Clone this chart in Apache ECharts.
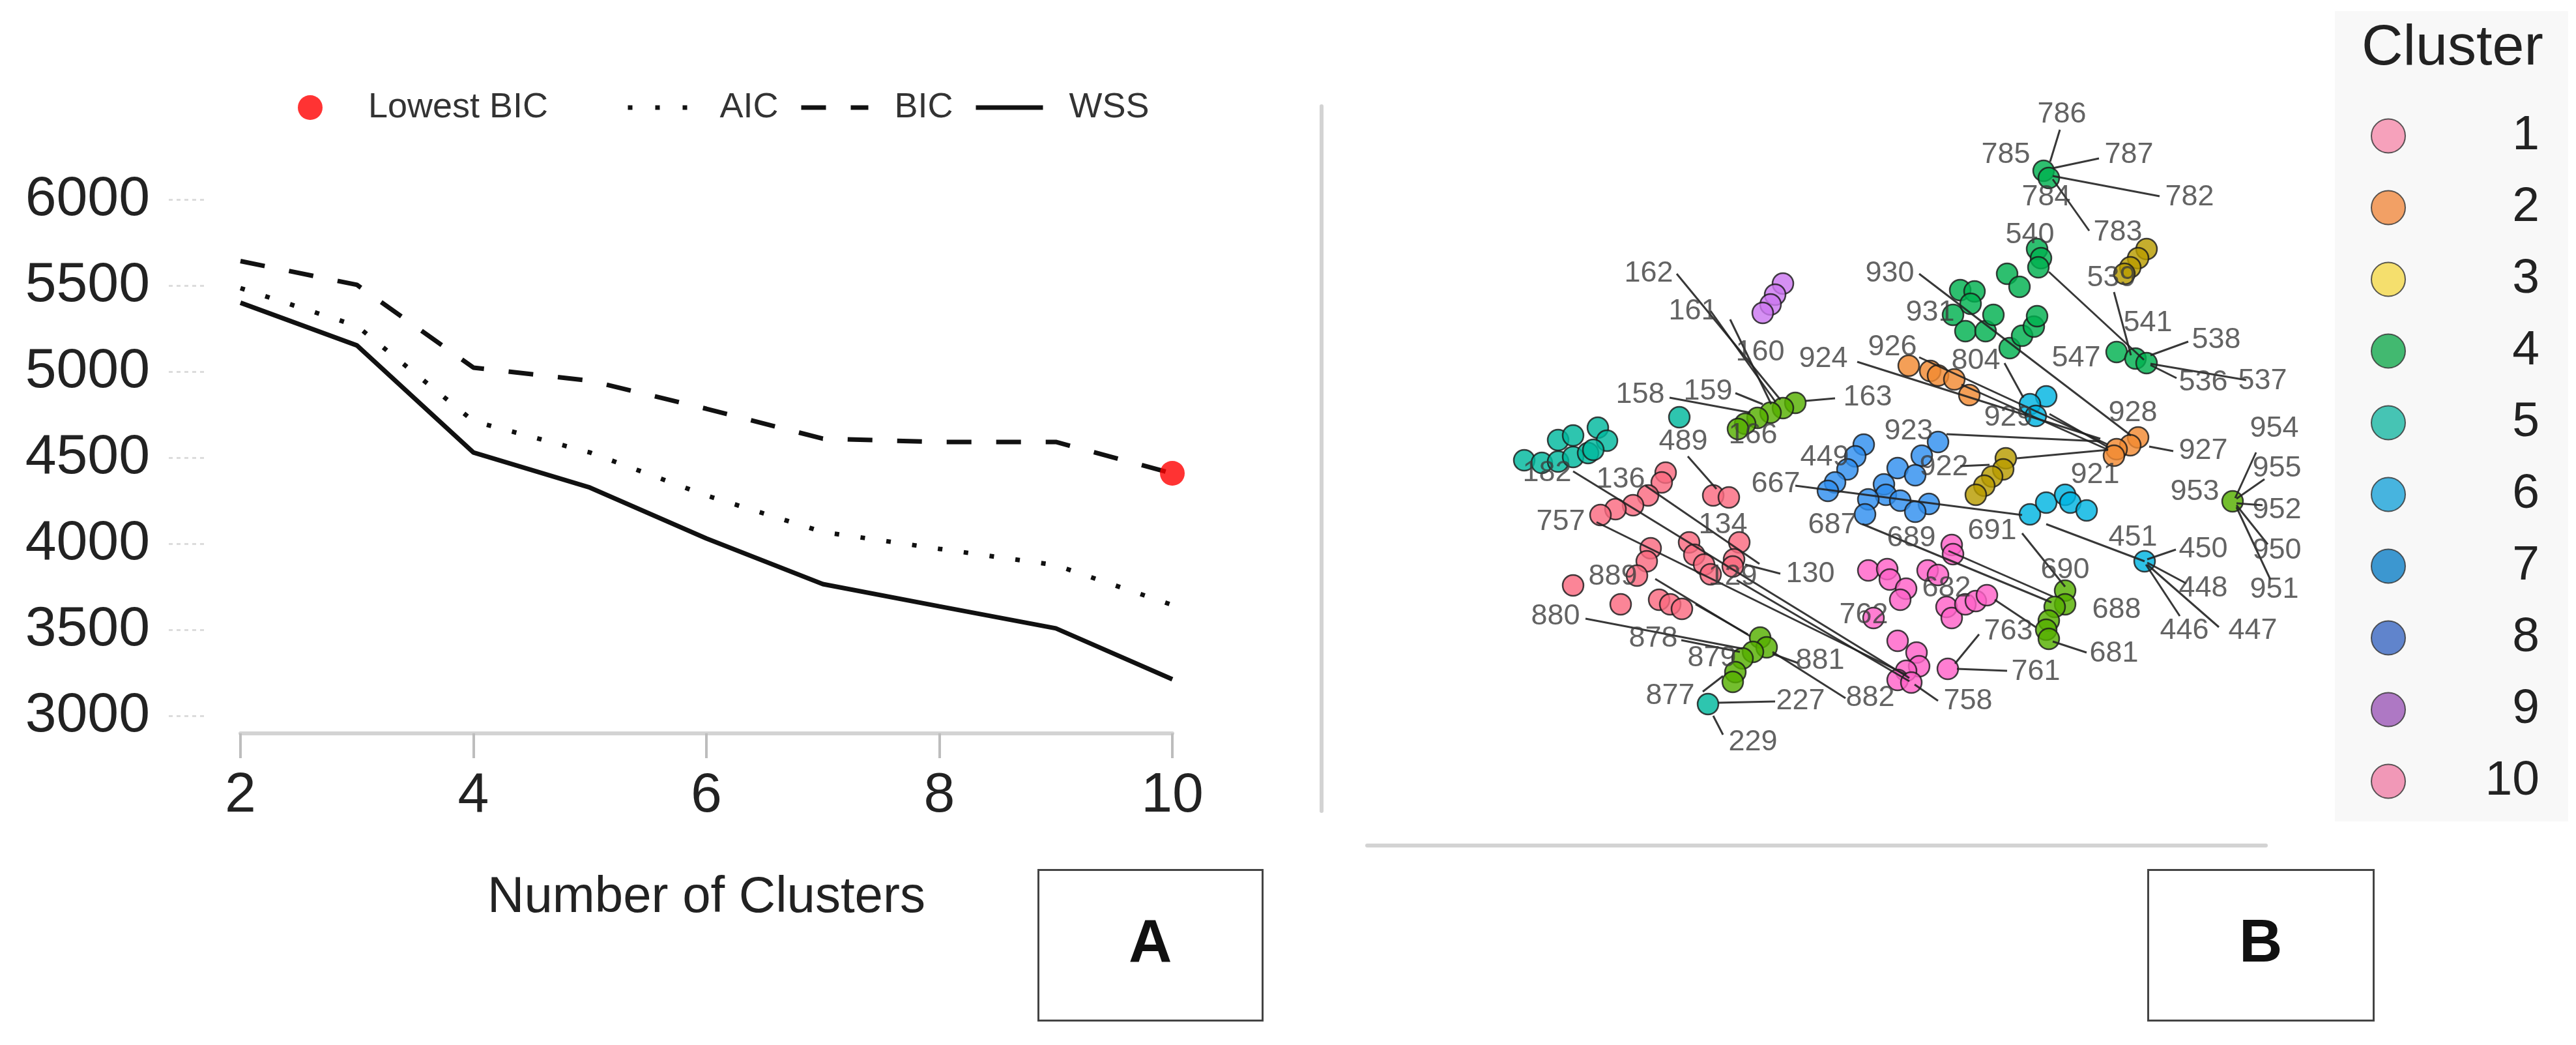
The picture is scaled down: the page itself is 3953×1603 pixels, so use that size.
<!DOCTYPE html>
<html>
<head>
<meta charset="utf-8">
<script src="https://cdn.jsdelivr.net/npm/echarts@6/dist/echarts.min.js"></script>
<style>
  html, body { margin: 0; padding: 0; background: #fff; }
  #chart { width: 3953px; height: 1603px; }
</style>
</head>
<body>
<div id="chart"></div>
<script>
/* --------------------------------------------------------
 Panel A: model selection curves
 -----------------------------------------------------------*/
var clusterCounts = [2, 3, 4, 5, 6, 7, 8, 9, 10];
var aicVals = [5485, 5265, 4712, 4530, 4280, 4068, 3970, 3875, 3644];
var bicVals = [5642, 5504, 5023, 4947, 4784, 4610, 4591, 4591, 4409];
var wssVals = [5400, 5152, 4530, 4326, 4030, 3765, 3636, 3508, 3212];

/* --------------------------------------------------------
 Panel B: cluster map (dim1, dim2), grouped by plotted colour
 -----------------------------------------------------------*/
var salmonPts = [[55.6, 57.5], [55.0, 56.0], [52.9, 54.0], [50.6, 52.5], [47.9, 51.9], [45.6, 51.0],
  [62.9, 54.0], [65.3, 53.7], [53.3, 45.9], [52.7, 43.9], [51.2, 41.7], [59.2, 46.8], [60.0, 44.9],
  [61.5, 43.4], [62.5, 41.9], [66.9, 46.8], [66.1, 44.2], [65.9, 43.1], [41.4, 40.2], [48.7, 37.3],
  [54.6, 38.0], [56.3, 37.3], [58.1, 36.6]];
var tealPts = [[33.9, 59.4], [36.6, 59.0], [39.1, 59.2], [41.4, 59.9], [43.7, 60.5], [39.1, 62.5],
  [41.4, 63.2], [45.2, 64.4], [46.6, 62.4], [44.5, 61.0], [57.7, 66.0], [62.1, 22.0]];
var purplePts = [[73.6, 86.5], [72.4, 84.8], [71.7, 83.3], [70.5, 82.0]];
var limePts = [[75.5, 68.2], [73.6, 67.4], [71.7, 66.7], [69.7, 65.9], [67.8, 65.0], [66.7, 64.2],
  [70.1, 32.2], [71.1, 30.7], [69.0, 30.0], [67.4, 29.0], [66.3, 26.9], [65.9, 25.4],
  [116.9, 39.4], [116.9, 37.3], [115.3, 36.9], [114.4, 34.8], [114.0, 33.4], [114.4, 32.0], [142.6, 53.1]];
var greenPts = [[113.6, 103.8], [114.4, 102.7], [112.6, 91.8], [113.2, 90.4], [112.8, 89.0], [108.0, 88.0],
  [109.9, 86.0], [100.8, 85.5], [103.0, 85.3], [99.7, 81.7], [101.6, 79.2], [104.7, 79.2], [105.9, 81.7],
  [108.4, 76.6], [110.3, 78.5], [112.1, 79.9], [112.6, 81.5], [102.4, 83.4], [124.8, 76.0], [127.7, 75.0],
  [129.4, 74.3]];
var olivePts = [[129.4, 91.8], [128.1, 90.4], [126.9, 89.0], [126.0, 88.0], [107.8, 59.7], [107.4, 58.0],
  [105.7, 56.9], [104.5, 55.5], [103.2, 54.1]];
var orangePts = [[92.9, 73.9], [96.2, 73.1], [97.4, 72.4], [99.9, 71.8], [102.2, 69.4], [128.1, 62.9],
  [126.9, 61.7], [124.8, 61.1], [124.4, 60.1]];
var cyanPts = [[114.0, 69.2], [111.5, 68.0], [112.4, 66.2], [111.5, 51.1], [114.0, 52.9], [116.9, 54.1],
  [117.7, 52.9], [120.2, 51.7], [129.1, 43.9]];
var bluePts = [[97.4, 62.2], [94.9, 60.1], [91.2, 58.2], [93.9, 57.1], [89.1, 55.7], [89.4, 54.1],
  [86.7, 53.4], [91.6, 53.2], [96.0, 52.7], [93.9, 51.5], [86.2, 51.1], [86.0, 61.8], [84.7, 60.0],
  [83.5, 58.0], [81.6, 56.0], [80.5, 54.7]];
var magentaPts = [[99.5, 46.4], [99.7, 45.0], [86.7, 42.5], [89.6, 42.7], [90.0, 41.1], [92.5, 39.7],
  [91.6, 38.0], [95.8, 42.5], [97.4, 41.8], [98.7, 36.9], [99.5, 35.2], [101.6, 37.3], [103.2, 37.8],
  [104.9, 38.7], [87.5, 35.2], [91.2, 31.7], [94.1, 29.9], [94.5, 27.8], [92.5, 27.1], [91.2, 25.7],
  [93.3, 25.3], [98.9, 27.4]];

// point labels: [text, dim1, dim2]
var ptLabels = [
  ['786', 116.4, 112.4], ['785', 107.8, 106.2], ['787', 126.7, 106.2], ['784', 114.0, 99.7],
  ['782', 136.0, 99.7], ['783', 125.0, 94.3], ['540', 111.5, 93.9], ['539', 124.0, 87.3],
  ['930', 90.0, 88.0], ['931', 96.2, 82.0], ['541', 129.6, 80.4], ['538', 140.1, 77.8],
  ['547', 118.6, 75.0], ['536', 138.1, 71.3], ['537', 147.2, 71.5], ['926', 90.4, 76.7],
  ['924', 79.8, 74.9], ['804', 103.2, 74.6], ['929', 108.2, 65.9], ['928', 127.3, 66.6],
  ['923', 92.9, 63.8], ['927', 138.1, 60.8], ['922', 98.3, 58.3], ['921', 121.5, 57.1],
  ['954', 149.0, 64.2], ['955', 149.4, 58.1], ['953', 136.8, 54.5], ['952', 149.4, 51.7],
  ['950', 149.4, 45.5], ['951', 149.0, 39.5], ['691', 105.7, 48.5], ['451', 127.3, 47.5],
  ['450', 138.1, 45.7], ['448', 138.1, 39.7], ['446', 135.2, 33.2], ['447', 145.7, 33.2],
  ['690', 116.9, 42.5], ['688', 124.8, 36.4], ['681', 124.4, 29.7], ['763', 108.2, 33.1],
  ['761', 112.4, 26.9], ['758', 102.0, 22.4], ['762', 86.0, 35.6], ['682', 98.7, 39.7],
  ['689', 93.3, 47.4], ['687', 81.2, 49.4], ['667', 72.5, 55.7], ['449', 80.0, 59.8],
  ['162', 53.0, 88.0], ['161', 59.8, 82.2], ['160', 70.1, 75.9], ['158', 51.7, 69.4],
  ['159', 62.1, 69.9], ['163', 86.6, 69.0], ['166', 69.0, 63.2], ['182', 37.4, 57.4],
  ['489', 58.3, 62.2], ['136', 48.7, 56.4], ['757', 39.5, 49.9], ['134', 64.4, 49.4],
  ['130', 77.8, 41.9], ['129', 65.9, 41.5], ['889', 47.5, 41.5], ['880', 38.7, 35.4],
  ['878', 53.7, 32.0], ['879', 62.7, 29.0], ['881', 79.3, 28.6], ['877', 56.3, 23.2],
  ['227', 76.3, 22.4], ['882', 87.0, 22.9], ['229', 69.0, 16.1]
];

// leader segments: [[from dim1, dim2], [to dim1, dim2]]
var leaders = [
  [[116.1, 110.1], [114.6, 105.2]], [[122.1, 105.7], [115.0, 104.2]], [[131.4, 99.9], [115.0, 103.0]],
  [[120.6, 94.6], [115.0, 102.5]], [[114.4, 88.3], [129.0, 74.8]], [[124.4, 85.2], [127.0, 75.5]],
  [[94.5, 88.0], [127.0, 63.2]], [[135.8, 77.6], [130.0, 75.5]], [[144.7, 71.7], [130.0, 74.2]],
  [[134.0, 72.0], [130.0, 74.0]], [[94.5, 75.2], [123.5, 61.8]], [[85.0, 74.5], [122.3, 62.7]],
  [[107.6, 74.3], [110.5, 69.0]], [[101.0, 71.0], [123.5, 61.0]], [[114.5, 66.5], [123.5, 61.4]],
  [[98.7, 63.4], [122.3, 62.3]], [[129.8, 61.5], [133.5, 60.8]], [[100.8, 58.5], [105.3, 58.7]],
  [[109.5, 59.7], [123.5, 61.0]], [[146.2, 60.6], [143.0, 53.6]], [[147.5, 56.5], [143.2, 53.5]],
  [[147.2, 52.5], [143.2, 52.8]], [[148.0, 46.5], [143.2, 52.5]], [[148.4, 41.1], [143.2, 52.2]],
  [[110.3, 48.2], [116.9, 40.0]], [[114.0, 49.6], [129.1, 43.9]], [[133.9, 45.7], [129.5, 44.2]],
  [[135.5, 40.5], [129.5, 43.7]], [[134.5, 35.5], [129.3, 43.4]], [[140.5, 33.8], [129.5, 43.4]],
  [[120.2, 29.9], [115.0, 31.6]], [[103.7, 32.7], [100.0, 28.2]], [[108.0, 27.1], [100.3, 27.4]],
  [[97.4, 22.5], [93.8, 25.0]], [[85.8, 49.6], [114.8, 37.6]], [[99.0, 45.5], [115.0, 38.5]],
  [[106.1, 38.0], [112.4, 33.8]], [[75.5, 55.5], [110.3, 51.0]],
  [[57.3, 88.0], [73.2, 68.7]], [[62.5, 82.3], [72.5, 68.3]], [[65.5, 81.0], [71.8, 68.0]],
  [[56.2, 69.0], [68.6, 66.7]], [[66.3, 69.7], [70.5, 68.0]], [[81.6, 68.9], [77.0, 68.5]],
  [[41.4, 57.7], [93.0, 26.0]], [[45.0, 49.9], [92.5, 26.5]], [[52.5, 55.5], [70.0, 43.5]],
  [[67.8, 43.4], [73.2, 42.0]], [[59.0, 60.0], [63.4, 55.0]], [[66.5, 41.0], [93.0, 25.5]],
  [[54.0, 41.2], [68.6, 32.4]], [[60.2, 37.3], [68.2, 32.7]], [[43.3, 35.1], [67.4, 30.5]],
  [[58.0, 31.8], [67.0, 30.0]], [[61.3, 23.9], [64.4, 26.3]], [[63.6, 22.2], [72.4, 22.4]],
  [[62.9, 20.2], [64.4, 17.3]], [[72.0, 29.7], [75.9, 28.3]], [[72.0, 30.0], [83.2, 22.9]]
];

var clusterNames = ['1', '2', '3', '4', '5', '6', '7', '8', '9', '10'];
var clusterColors = ['#f58bab', '#f08a40', '#f4d84a', '#14a94e', '#19b7a2',
  '#1aa2d8', '#0d7ec6', '#3a66c0', '#9b58b6', '#ef80a6'];

var pointGroups = [
  {pts: salmonPts, color: '#fa6a80'},
  {pts: tealPts, color: '#00b89e'},
  {pts: purplePts, color: '#cc78f0'},
  {pts: limePts, color: '#55b000'},
  {pts: greenPts, color: '#00b14f'},
  {pts: olivePts, color: '#b89c00'},
  {pts: orangePts, color: '#f28a32'},
  {pts: cyanPts, color: '#00b5e2'},
  {pts: bluePts, color: '#2f8fef'},
  {pts: magentaPts, color: '#ff62c8'}
];

var FONT = 'Liberation Sans, Arial, Helvetica, sans-serif';

function zip(xs, ys) {
  return xs.map(function (x, i) { return [x, ys[i]]; });
}

var lowIdx = 0;
for (var i = 1; i < bicVals.length; i++) {
  if (bicVals[i] < bicVals[lowIdx]) lowIdx = i;
}

var series = [
  {name: 'AIC', type: 'line', xAxisIndex: 0, yAxisIndex: 0, data: zip(clusterCounts, aicVals),
    symbol: 'none', itemStyle: {color: '#111'}, lineStyle: {color: '#111', width: 7, type: [7, 33], cap: 'butt'}},
  {name: 'BIC', type: 'line', xAxisIndex: 0, yAxisIndex: 0, data: zip(clusterCounts, bicVals),
    symbol: 'none', itemStyle: {color: '#111'}, lineStyle: {color: '#111', width: 7, type: [38, 38], cap: 'butt'}},
  {name: 'WSS', type: 'line', xAxisIndex: 0, yAxisIndex: 0, data: zip(clusterCounts, wssVals),
    symbol: 'none', itemStyle: {color: '#111'}, lineStyle: {color: '#111', width: 7}},
  {name: 'Lowest BIC', type: 'scatter', xAxisIndex: 0, yAxisIndex: 0, symbol: 'circle',
    data: [[clusterCounts[lowIdx], bicVals[lowIdx]]], symbolSize: 38, itemStyle: {color: '#ff0000'}, z: 5}
];

pointGroups.forEach(function (g, k) {
  series.push({
    name: 'pts' + k, type: 'scatter', xAxisIndex: 1, yAxisIndex: 1, data: g.pts,
    symbol: 'circle', symbolSize: 32,
    itemStyle: {color: g.color, borderColor: '#1a1a1a', borderWidth: 2.5, opacity: 0.82},
    z: 2
  });
});

series.push({
  name: 'leaders', type: 'lines', coordinateSystem: 'cartesian2d', xAxisIndex: 1, yAxisIndex: 1,
  data: leaders.map(function (s) { return {coords: s}; }),
  lineStyle: {color: '#222', width: 3, opacity: 0.9}, clip: false, z: 3
});

series.push({
  name: 'labels', type: 'scatter', xAxisIndex: 1, yAxisIndex: 1, symbolSize: 0, clip: false,
  data: ptLabels.map(function (l) { return {name: l[0], value: [l[1], l[2]]}; }),
  label: {show: true, position: 'inside', formatter: '{b}', fontSize: 45, fontFamily: FONT, color: '#3c3c3c'},
  z: 4
});

clusterNames.forEach(function (n, k) {
  series.push({
    name: n, type: 'scatter', xAxisIndex: 1, yAxisIndex: 1, data: [], symbol: 'circle',
    itemStyle: {color: clusterColors[k], borderColor: '#333', borderWidth: 3}
  });
});

function topLegend(name, left, width, pad, lineStyle) {
  var lg = {
    data: [name], left: left, top: 138, padding: 0, selectedMode: false,
    itemWidth: width, itemHeight: 38,
    formatter: '{t|{name}}',
    textStyle: {rich: {t: {padding: [0, 0, 0, pad], fontSize: 54, lineHeight: 54, color: '#333', fontFamily: FONT}}}
  };
  if (lineStyle) {
    lg.lineStyle = lineStyle;
    lg.itemStyle = {opacity: 0};
  }
  return lg;
}

var chart = echarts.init(document.getElementById('chart'));
chart.setOption({
  backgroundColor: '#fff',
  animation: false,
  textStyle: {fontFamily: FONT},
  title: [
    {text: 'Cluster', left: 3624, top: 31, padding: 0,
      textStyle: {fontSize: 88, fontWeight: 'normal', color: '#222', lineHeight: 88, fontFamily: FONT}},
    {text: 'A', left: 1593, top: 1334, padding: [70, 139], borderWidth: 3, borderColor: '#444',
      textStyle: {fontSize: 92, fontWeight: 'bold', color: '#111', lineHeight: 92, fontFamily: FONT}},
    {text: 'B', left: 3296, top: 1334, padding: [70, 140], borderWidth: 3, borderColor: '#444',
      textStyle: {fontSize: 92, fontWeight: 'bold', color: '#111', lineHeight: 92, fontFamily: FONT}}
  ],
  legend: [
    topLegend('Lowest BIC', 457, 38, 65, null),
    topLegend('AIC', 960, 95, 41, {color: '#111', width: 7, type: [7, 35], cap: 'butt'}),
    topLegend('BIC', 1226, 103, 35, {color: '#111', width: 7, type: [38, 38], cap: 'butt'}),
    topLegend('WSS', 1494, 103, 35, {color: '#111', width: 7}),
    {
      data: clusterNames, orient: 'vertical', left: 3583, top: 17, padding: [154, 44, 24, 55],
      backgroundColor: '#f8f8f8', selectedMode: false, icon: 'circle',
      itemWidth: 52, itemHeight: 52, itemGap: 35,
      formatter: '{n|{name}}',
      textStyle: {lineHeight: 52, height: 52,
        rich: {n: {width: 201, height: 52, align: 'right', fontSize: 75, lineHeight: 52, color: '#222', fontFamily: FONT}}}
    }
  ],
  grid: [
    {left: 369, top: 306, width: 1430, height: 792},
    {left: 2098, top: 163, width: 1379, height: 1081}
  ],
  xAxis: [
    {
      gridIndex: 0, type: 'value', min: 2, max: 10, interval: 2, offset: 27,
      axisLine: {lineStyle: {color: '#d3d3d3', width: 6}},
      axisTick: {length: 38, lineStyle: {color: '#bdbdbd', width: 4}},
      axisLabel: {margin: 53, fontSize: 86, lineHeight: 86, color: '#222'},
      splitLine: {show: false},
      name: 'Number of Clusters', nameLocation: 'middle', nameGap: 213,
      nameTextStyle: {fontSize: 78, lineHeight: 78, color: '#222'}
    },
    {
      gridIndex: 1, type: 'value', min: 9.8, max: 147.7, offset: 53,
      axisLine: {lineStyle: {color: '#d3d3d3', width: 6}},
      axisTick: {show: false}, axisLabel: {show: false}, splitLine: {show: false}
    }
  ],
  yAxis: [
    {
      gridIndex: 0, type: 'value', min: 3000, max: 6000, interval: 500, offset: 56,
      axisLine: {show: false},
      axisTick: {show: true, length: 58, lineStyle: {color: '#dcdcdc', width: 3, type: [6, 6]}},
      axisLabel: {margin: 83, fontSize: 86, color: '#222', formatter: function (v) { return String(v); }},
      splitLine: {show: false}
    },
    {
      gridIndex: 1, type: 'value', min: 5.6, max: 113.7, offset: 70,
      axisLine: {show: true, lineStyle: {color: '#d3d3d3', width: 6}},
      axisTick: {show: false}, axisLabel: {show: false}, splitLine: {show: false}
    }
  ],
  series: series
});
</script>
</body>
</html>
